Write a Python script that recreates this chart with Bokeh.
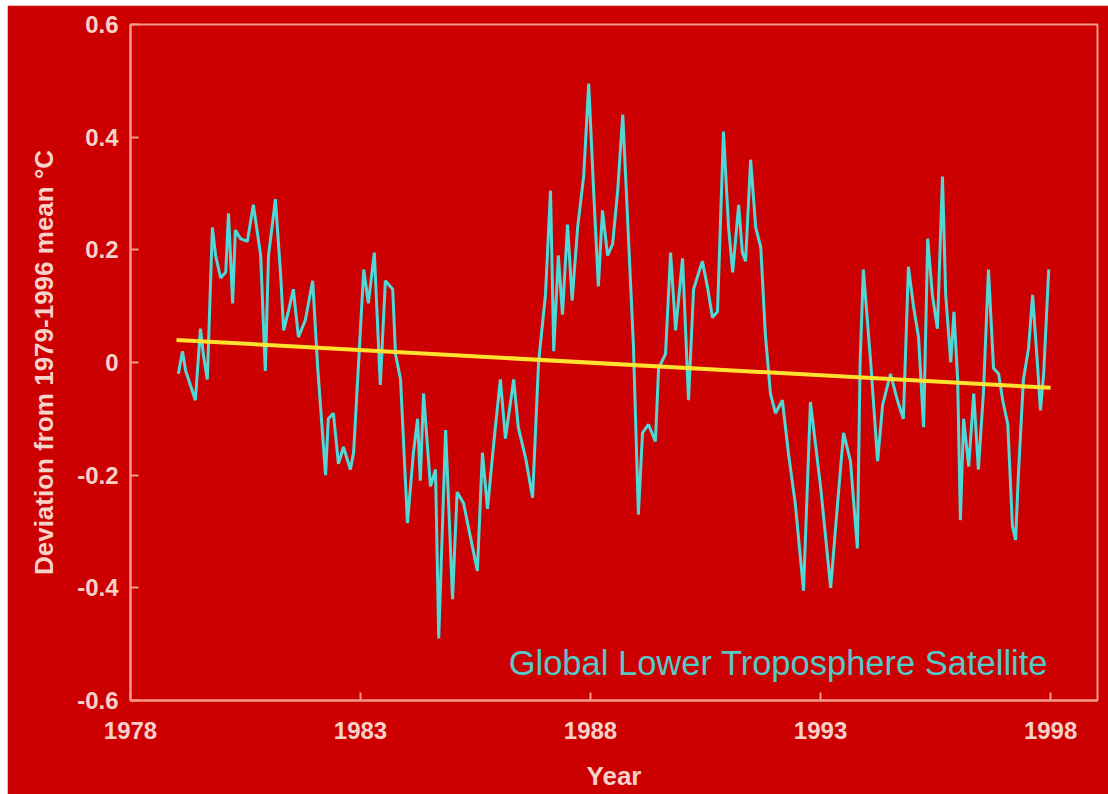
from bokeh.plotting import figure
from bokeh.models import Range1d, FixedTicker, Label
from bokeh.embed import file_html
from bokeh.resources import INLINE

# ---- data ----
sat_years = [1979.04, 1979.13, 1979.20, 1979.41, 1979.52, 1979.59, 1979.67, 1979.78, 1979.85, 1979.96,
             1980.07, 1980.13, 1980.22, 1980.28, 1980.39, 1980.54, 1980.67, 1980.83, 1980.93, 1981.00,
             1981.15, 1981.26, 1981.33, 1981.43, 1981.54, 1981.65, 1981.80, 1981.96, 1982.07, 1982.24,
             1982.30, 1982.41, 1982.52, 1982.63, 1982.78, 1982.85, 1983.07, 1983.17, 1983.30, 1983.43,
             1983.54, 1983.70, 1983.76, 1983.87, 1984.02, 1984.15, 1984.24, 1984.30, 1984.37, 1984.52,
             1984.63, 1984.70, 1984.85, 1985.00, 1985.10, 1985.24, 1985.39, 1985.54, 1985.65, 1985.76,
             1985.90, 1986.04, 1986.15, 1986.33, 1986.43, 1986.59, 1986.74, 1986.87, 1987.02, 1987.13,
             1987.20, 1987.30, 1987.39, 1987.50, 1987.60, 1987.72, 1987.85, 1987.96, 1988.07, 1988.17,
             1988.26, 1988.37, 1988.48, 1988.59, 1988.70, 1988.80, 1988.93, 1989.04, 1989.13, 1989.26,
             1989.41, 1989.48, 1989.63, 1989.74, 1989.85, 1990.00, 1990.13, 1990.24, 1990.43, 1990.54,
             1990.65, 1990.76, 1990.89, 1991.00, 1991.09, 1991.22, 1991.30, 1991.37, 1991.48, 1991.59,
             1991.70, 1991.80, 1991.91, 1992.02, 1992.17, 1992.30, 1992.45, 1992.63, 1992.78, 1993.00,
             1993.22, 1993.35, 1993.50, 1993.65, 1993.80, 1993.86, 1993.93, 1994.09, 1994.24, 1994.35,
             1994.52, 1994.67, 1994.80, 1994.91, 1995.02, 1995.13, 1995.24, 1995.33, 1995.43, 1995.54,
             1995.65, 1995.72, 1995.83, 1995.90, 1995.98, 1996.04, 1996.11, 1996.22, 1996.33, 1996.43,
             1996.54, 1996.65, 1996.76, 1996.87, 1996.96, 1997.07, 1997.17, 1997.24, 1997.30, 1997.41,
             1997.52, 1997.61, 1997.72, 1997.78, 1997.85, 1997.96]
sat_anoms = [-0.02, 0.02, -0.015, -0.067, 0.06, 0.01, -0.03, 0.24, 0.19, 0.15,
             0.16, 0.265, 0.105, 0.235, 0.22, 0.215, 0.28, 0.19, -0.015, 0.19,
             0.29, 0.16, 0.057, 0.09, 0.13, 0.045, 0.075, 0.145, -0.01, -0.2,
             -0.1, -0.09, -0.18, -0.15, -0.19, -0.16, 0.165, 0.105, 0.195, -0.04,
             0.145, 0.13, 0.015, -0.03, -0.285, -0.16, -0.1, -0.21, -0.055, -0.22,
             -0.19, -0.49, -0.12, -0.42, -0.23, -0.25, -0.31, -0.37, -0.16, -0.26,
             -0.14, -0.03, -0.135, -0.03, -0.115, -0.17, -0.24, 0.0, 0.12, 0.305,
             0.02, 0.19, 0.085, 0.245, 0.11, 0.24, 0.33, 0.495, 0.3, 0.135,
             0.27, 0.19, 0.21, 0.305, 0.44, 0.265, 0.035, -0.27, -0.125, -0.11,
             -0.14, -0.01, 0.015, 0.195, 0.057, 0.185, -0.067, 0.13, 0.18, 0.135,
             0.08, 0.09, 0.41, 0.24, 0.16, 0.28, 0.195, 0.18, 0.36, 0.24,
             0.205, 0.05, -0.055, -0.09, -0.067, -0.16, -0.25, -0.405, -0.07, -0.22,
             -0.4, -0.27, -0.125, -0.175, -0.33, 0.0, 0.165, 0.0, -0.175, -0.075,
             -0.02, -0.067, -0.1, 0.17, 0.1, 0.045, -0.115, 0.22, 0.12, 0.06,
             0.33, 0.12, 0.0, 0.09, -0.03, -0.28, -0.1, -0.185, -0.055, -0.19,
             -0.055, 0.165, -0.01, -0.02, -0.067, -0.11, -0.29, -0.315, -0.2, -0.03,
             0.025, 0.12, -0.01, -0.085, -0.02, 0.165]

trend_years = [1979.0, 1998.0]
trend_vals = [0.04, -0.045]

x_ticks = [1978, 1983, 1988, 1993, 1998]
y_ticks = [-0.6, -0.4, -0.2, 0.0, 0.2, 0.4, 0.6]
y_labels = ["-0.6", "-0.4", "-0.2", "0", "0.2", "0.4", "0.6"]

title_text = "Global Lower Troposphere Satellite"
x_label = "Year"
y_label = "Deviation from 1979-1996 mean \u00b0C"

# ---- style ----
BG = "#CC0000"
FRAME = "#F29A8A"
TXT = "#F8D2CA"
FONT = "Liberation Sans"

p = figure(width=1101, height=789,
           x_range=Range1d(1978, 1999.02), y_range=Range1d(-0.6, 0.6),
           output_backend="svg", toolbar_location=None,
           min_border_left=123, min_border_right=11,
           min_border_top=19, min_border_bottom=94)
p.margin = (5, 0, 0, 7)
p.background_fill_color = BG
p.border_fill_color = BG
p.outline_line_color = FRAME
p.outline_line_width = 2
p.grid.visible = False

p.line(sat_years, sat_anoms, line_color="#4ED8D8", line_width=3)
p.line(trend_years, trend_vals, line_color="#FFE22E", line_width=4)

for ax in (p.xaxis[0], p.yaxis[0]):
    ax.axis_line_color = FRAME
    ax.axis_line_width = 2
    ax.major_tick_line_color = FRAME
    ax.major_tick_line_width = 2
    ax.major_tick_in = 8
    ax.major_tick_out = 0
    ax.minor_tick_line_color = None
    ax.major_label_text_color = TXT
    ax.major_label_text_font = FONT
    ax.major_label_text_font_style = "bold"
    ax.major_label_text_font_size = "24px"
    ax.axis_label_text_color = TXT
    ax.axis_label_text_font = FONT
    ax.axis_label_text_font_style = "bold"
    ax.axis_label_text_font_size = "26px"

p.xaxis.ticker = FixedTicker(ticks=x_ticks)
p.yaxis.ticker = FixedTicker(ticks=y_ticks)
p.yaxis.major_label_overrides = {t: s for t, s in zip(y_ticks, y_labels)}
p.xaxis.major_label_standoff = 21
p.yaxis.major_label_standoff = 12
p.xaxis.axis_label = x_label
p.yaxis.axis_label = y_label
p.xaxis.axis_label_standoff = 19
p.yaxis.axis_label_standoff = 15

p.add_layout(Label(x=1986.22, y=-0.534, text=title_text,
                   text_color="#55C8C8", text_font=FONT,
                   text_font_size="34.5px", text_baseline="alphabetic"))

open("out.html", "w").write(file_html(p, INLINE))
